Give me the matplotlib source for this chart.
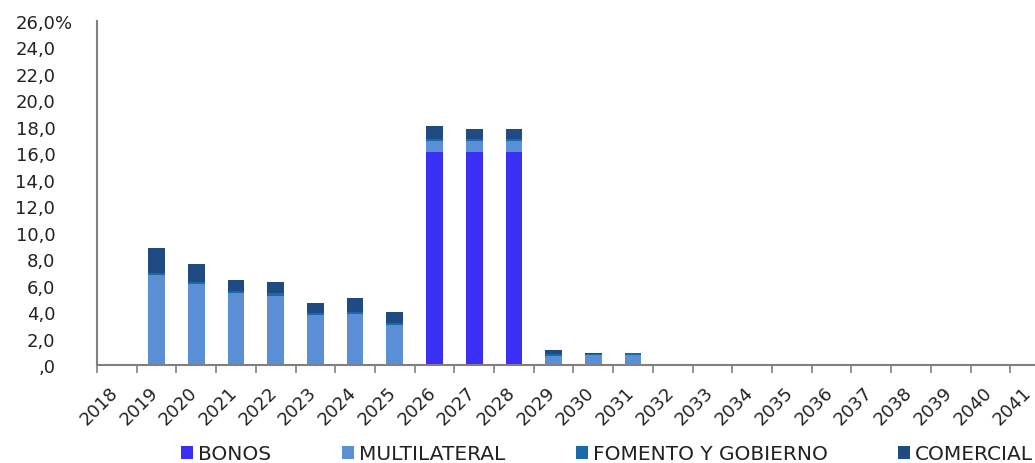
import matplotlib
matplotlib.use("Agg")
import matplotlib.pyplot as plt
import matplotlib.transforms as mtransforms
import numpy as np

# Debt amortization profile by creditor type (% share per year)
years = [str(y) for y in range(2018, 2042)]
bonos = [0, 0, 0, 0, 0, 0, 0, 0, 16.1, 16.1, 16.1, 0, 0, 0,
         0, 0, 0, 0, 0, 0, 0, 0, 0, 0]
multilateral = [0, 6.8, 6.1, 5.45, 5.25, 3.75, 3.85, 3.0, 0.8, 0.8, 0.8, 0.7, 0.75, 0.75,
                0, 0, 0, 0, 0, 0, 0, 0, 0, 0]
fomento = [0, 0.15, 0.15, 0.15, 0.2, 0.15, 0.15, 0.2, 0.2, 0.2, 0.2, 0.15, 0.08, 0.15,
           0, 0, 0, 0, 0, 0, 0, 0, 0, 0]
comercial = [0, 1.9, 1.38, 0.85, 0.8, 0.8, 1.04, 0.78, 0.95, 0.75, 0.75, 0.26, 0.1, 0.03,
             0, 0, 0, 0, 0, 0, 0, 0, 0, 0]
ytick_values = list(range(0, 27, 2))
ytick_labels = [",0"] + [f"{v},0" for v in ytick_values[1:]]

series = [
    ("BONOS", bonos, "#3a30f5"),
    ("MULTILATERAL", multilateral, "#5a8fd6"),
    ("FOMENTO Y GOBIERNO", fomento, "#1a6aaa"),
    ("COMERCIAL", comercial, "#1f4a82"),
]

plt.rcParams["font.family"] = ["DejaVu Sans"]
fig = plt.figure(figsize=(10.35, 4.64), dpi=100)
ax = fig.add_axes([97 / 1035, 98 / 464, 953 / 1035, 344 / 464])

x = np.arange(len(years))
bottom = np.zeros(len(years))
handles = []
for name, vals, color in series:
    vals = np.array(vals, dtype=float)
    h = ax.bar(x, vals, width=0.42, bottom=bottom, color=color,
               linewidth=0, label=name)
    handles.append(h)
    bottom += vals

ax.set_xlim(-0.5, len(years) - 0.5)
ax.set_ylim(0, 26)

ax.set_yticks(ytick_values)
ax.set_yticklabels(ytick_labels, fontsize=13, color="#222222")
ax.tick_params(axis="y", length=0, pad=30)
ax.annotate("%", xy=(0, 26), xycoords=("axes fraction", "data"),
            xytext=(-30, 0), textcoords="offset points",
            ha="left", va="center_baseline", fontsize=13, color="#222222")

ax.set_xticks(x)
ax.set_xticklabels(years, rotation=45, ha="right", rotation_mode="anchor",
                   fontsize=13, color="#222222")
ax.tick_params(axis="x", which="major", length=0, pad=13)
shift = mtransforms.ScaledTranslation(-8 / 100, 0, fig.dpi_scale_trans)
for lbl in ax.get_xticklabels():
    lbl.set_transform(lbl.get_transform() + shift)
ax.set_xticks(np.arange(-0.5, len(years), 1), minor=True)
ax.tick_params(axis="x", which="minor", length=6, width=1.2, color="#808080", direction="out")

for side in ("top", "right"):
    ax.spines[side].set_visible(False)
for side in ("left", "bottom"):
    ax.spines[side].set_color("#808080")
    ax.spines[side].set_linewidth(1.5)

leg = fig.legend(handles=handles, loc="center left", bbox_to_anchor=(181 / 1035, 1 - 455 / 464),
                 ncol=4, frameon=False, fontsize=14.5, borderpad=0, borderaxespad=0,
                 handlelength=0.6, handleheight=0.65, handletextpad=0.25, columnspacing=3.5)
for t in leg.get_texts():
    t.set_color("#222222")

fig.savefig("out.png", dpi=100)
